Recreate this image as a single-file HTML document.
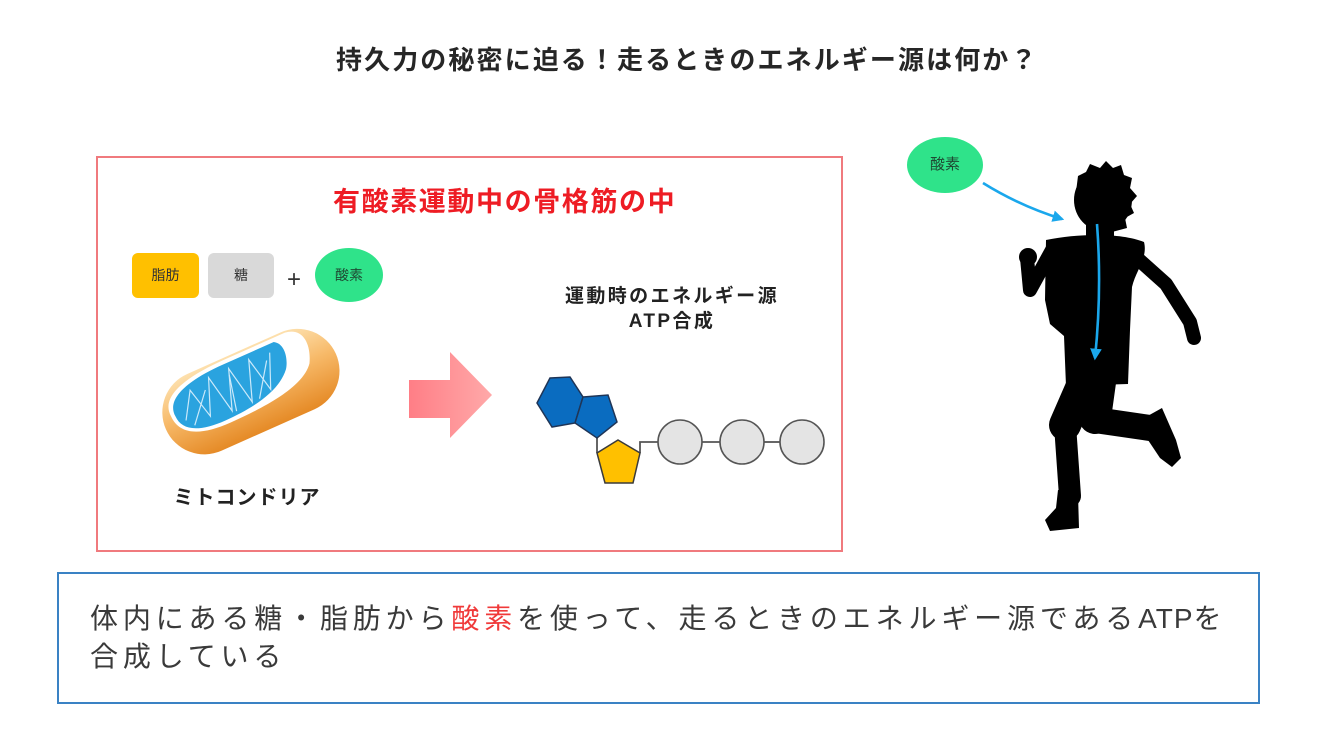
<!DOCTYPE html>
<html><head><meta charset="utf-8"><style>
html,body{margin:0;padding:0;background:#fff;}
body{width:1318px;height:746px;position:relative;overflow:hidden;font-family:"Liberation Sans","Noto Sans CJK JP",sans-serif;}
.a{position:absolute;white-space:nowrap;}
</style></head><body>
<svg class="a" style="left:0;top:0" width="1318" height="746" viewBox="0 0 1318 746">
<defs>
<linearGradient id="og" x1="0" y1="0" x2="0" y2="1">
<stop offset="0" stop-color="#fde0ad"/><stop offset="0.45" stop-color="#f7b968"/><stop offset="1" stop-color="#e58a26"/>
</linearGradient>
<linearGradient id="pg" x1="0" y1="0" x2="1" y2="0">
<stop offset="0" stop-color="#ff7e86"/><stop offset="1" stop-color="#ffa9a9"/>
</linearGradient>
<marker id="ah" viewBox="0 0 10 10" refX="8" refY="5" markerWidth="4.5" markerHeight="4.5" orient="auto"><path d="M0,0 L10,5 L0,10 Z" fill="#1aa7ec"/></marker>
</defs>
<rect x="97" y="157" width="745" height="394" fill="none" stroke="#f07a7e" stroke-width="2"/>
<rect x="58" y="573" width="1201" height="130" fill="none" stroke="#3a82c4" stroke-width="2"/>
<rect x="132" y="253" width="67" height="45" rx="6" fill="#ffc000"/>
<rect x="208" y="253" width="66" height="45" rx="6" fill="#d9d9d9"/>
<ellipse cx="349" cy="275" rx="34" ry="27" fill="#2fe38a"/>
<!-- mitochondria -->
<g transform="rotate(-24 250 392)">
<rect x="158" y="350" width="186" height="84" rx="42" fill="url(#og)"/>
<path d="M168 382 C166 360 196 352 240 352 L306 352 C324 354 326 372 316 390 C302 408 262 412 220 412 C186 412 168 402 168 382 Z" fill="#ffffff"/>
<path d="M172 384 C170 364 198 356 236 356 L292 356 C302 362 298 378 292 386 C278 402 250 408 216 408 C188 408 172 400 172 384 Z" fill="#2aa3df"/>
<g stroke="#e8f6ff" stroke-width="1.2" fill="none" opacity="0.85">
<path d="M180 392 L196 366 L204 398 L218 362 L226 402 L240 362 L248 402 L262 362 L270 398 L284 364"/>
<path d="M186 400 L210 372 M230 404 L238 368 M256 402 L278 370"/>
</g>
</g>
<polygon points="409,380 450,380 450,352 492,395 450,438 450,418 409,418" fill="url(#pg)"/>
<g stroke="#555" stroke-width="1.8" fill="none">
<line x1="597" y1="438" x2="597" y2="453"/>
<polyline points="640,453 640,442 658,442"/>
<line x1="702" y1="442" x2="720" y2="442"/>
<line x1="764" y1="442" x2="780" y2="442"/>
</g>
<polygon points="550,378 570,377 583,397 575,423 552,427 537,403" fill="#0a6cc0" stroke="#1f3557" stroke-width="1.5"/>
<polygon points="583,397 608,395 617,422 597,438 575,423" fill="#0a6cc0" stroke="#1f3557" stroke-width="1.5"/>
<polygon points="618,440 640,453 633,483 605,483 597,453" fill="#ffc000" stroke="#3a3a3a" stroke-width="1.5"/>
<g fill="#e4e4e4" stroke="#555" stroke-width="1.6">
<circle cx="680" cy="442" r="22"/><circle cx="742" cy="442" r="22"/><circle cx="802" cy="442" r="22"/>
</g>
<ellipse cx="945" cy="165" rx="38" ry="28" fill="#2fe38a"/>
<g fill="#000" stroke="#000" stroke-linecap="round" stroke-linejoin="round">
<ellipse cx="1103" cy="200" rx="29" ry="31" stroke="none"/>
<path d="M1076 192 L1078 176 L1086 172 L1090 164 L1100 168 L1106 161 L1113 168 L1121 165 L1124 175 L1132 178 L1130 188 L1137 196 L1130 204 L1134 213 L1125 218 L1127 228 L1112 232 Z" stroke="none"/>
<rect x="1086" y="222" width="28" height="24" stroke="none"/>
<path d="M1046 240 C1080 233 1122 233 1144 242 C1148 258 1136 270 1132 287 L1130 330 L1128 384 L1066 386 L1064 336 L1050 324 L1045 300 Z" stroke="none"/>
<polyline points="1052,250 1030,290 1027,258" fill="none" stroke-width="14"/>
<circle cx="1028" cy="257" r="9" stroke="none"/>
<polyline points="1128,250 1166,284 1190,322 1194,338" fill="none" stroke-width="14"/>
<line x1="1100" y1="382" x2="1095" y2="418" stroke-width="32"/>
<line x1="1095" y1="420" x2="1150" y2="428" stroke-width="26"/>
<path d="M1144 418 L1162 408 L1176 440 L1181 458 L1172 467 L1160 458 L1148 440 Z" stroke="none"/>
<line x1="1082" y1="386" x2="1065" y2="425" stroke-width="32"/>
<line x1="1065" y1="425" x2="1070" y2="496" stroke-width="22"/>
<path d="M1058 490 L1078 494 L1079 528 L1050 531 L1045 520 L1056 508 Z" stroke="none"/>
</g>
<path d="M983 183 Q1020 206 1062 219" fill="none" stroke="#1aa7ec" stroke-width="2.6" marker-end="url(#ah)"/>
<path d="M1097 224 Q1102 290 1095 358" fill="none" stroke="#1aa7ec" stroke-width="2.6" marker-end="url(#ah)"/>
</svg>

<div class="a" style="left:336px;top:44px;font-size:26px;line-height:32px;font-weight:bold;color:#262626;letter-spacing:2.1px;">持久力の秘密に迫る！走るときのエネルギー源は何か？</div>

<div class="a" style="left:333px;top:186px;font-size:27px;line-height:32px;font-weight:bold;color:#ee1c24;letter-spacing:1.6px;">有酸素運動中の骨格筋の中</div>

<div class="a" style="left:132px;top:253px;width:67px;height:45px;line-height:45px;text-align:center;font-size:14px;color:#333;">脂肪</div>
<div class="a" style="left:208px;top:253px;width:66px;height:45px;line-height:45px;text-align:center;font-size:14px;color:#333;">糖</div>
<div class="a" style="left:282px;top:265px;width:24px;text-align:center;font-size:24px;line-height:30px;color:#333;">+</div>
<div class="a" style="left:315px;top:248px;width:68px;height:54px;line-height:54px;text-align:center;font-size:14px;color:#1f4a33;">酸素</div>

<div class="a" style="left:147px;top:485px;width:200px;text-align:center;font-size:20px;line-height:26px;font-weight:bold;color:#222;letter-spacing:1px;">ミトコンドリア</div>

<div class="a" style="left:552px;top:284px;width:240px;text-align:center;font-size:19px;line-height:25px;font-weight:bold;color:#222;letter-spacing:2.4px;">運動時のエネルギー源<br>ATP合成</div>

<div class="a" style="left:907px;top:137px;width:76px;height:56px;line-height:56px;text-align:center;font-size:15px;color:#1f4a33;">酸素</div>

<div class="a" style="left:90px;top:600px;font-size:28px;line-height:38px;color:#3a3a3a;letter-spacing:4.85px;">体内にある糖・脂肪から<span style="color:#f03a3a;">酸素</span>を使って、走るときのエネルギー源である<span style="letter-spacing:1px;">ATP</span>を<br>合成している</div>
</body></html>
